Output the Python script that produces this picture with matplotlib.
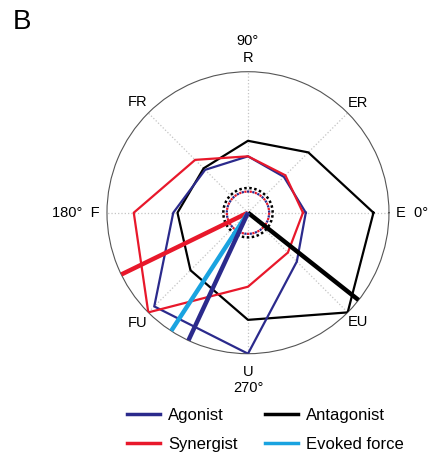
import numpy as np
import matplotlib
matplotlib.use("Agg")
import matplotlib.pyplot as plt
from matplotlib.lines import Line2D

plt.rcParams['font.family'] = ['Liberation Sans', 'DejaVu Sans']

# force directions, counter-clockwise from E
directions = ['E', 'ER', 'R', 'FR', 'F', 'FU', 'U', 'EU']
angles_deg = [0, 45, 90, 135, 180, 225, 270, 315]

# normalised tuning per direction
agonist = [0.41, 0.36, 0.40, 0.43, 0.53, 0.94, 1.00, 0.49]
synergist = [0.39, 0.375, 0.40, 0.53, 0.81, 1.00, 0.525, 0.40]
antagonist = [0.89, 0.605, 0.51, 0.445, 0.50, 0.577, 0.76, 1.00]

# preferred direction vectors (deg, length)
vec_agonist = (245, 1.0)
vec_synergist = (206, 1.0)
vec_antagonist = (321.7, 1.0)
vec_evoked = (237, 1.0)

# baseline radii (dotted circles)
base_agonist = 0.15
base_synergist = 0.15
base_antagonist = 0.175

c_ago = '#2b2a8c'
c_syn = '#e8182b'
c_ant = '#000000'
c_evo = '#1aa3e0'

fig = plt.figure(figsize=(4.30, 4.62), dpi=100)
ax = fig.add_axes([0.2488, 0.2344, 0.6558, 0.6104], projection='polar')

theta = np.deg2rad(angles_deg)
th_closed = np.append(theta, theta[0])

def closed(vals):
    return np.append(vals, vals[0])

ax.plot(th_closed, closed(antagonist), color=c_ant, lw=1.6, zorder=3)
ax.plot(th_closed, closed(agonist), color=c_ago, lw=1.6, zorder=3)
ax.plot(th_closed, closed(synergist), color=c_syn, lw=1.6, zorder=3)

# dotted baseline circles
circ = np.linspace(0, 2 * np.pi, 200)
ax.plot(circ, np.full_like(circ, base_antagonist), color=c_ant, lw=1.8,
        linestyle=(0, (1, 1)), zorder=4)
ax.plot(circ, np.full_like(circ, base_agonist), color=c_ago, lw=1.6,
        linestyle=(0, (1, 1.4)), zorder=4)
ax.plot(circ, np.full_like(circ, base_synergist), color=c_syn, lw=1.6,
        linestyle=(1.2, (1, 1.4)), zorder=4)

# preferred-direction vectors
for (ang, length), col in [(vec_synergist, c_syn), (vec_antagonist, c_ant),
                           (vec_evoked, c_evo), (vec_agonist, c_ago)]:
    ax.plot([0, np.deg2rad(ang)], [0, length], color=col, lw=3.2,
            solid_capstyle='butt', zorder=5)

ax.set_ylim(0, 1)
ax.set_yticks([])
ax.set_xticks(theta)
ax.set_xticklabels([])
ax.grid(axis='x', linestyle=':', color='#c4c4c4', lw=0.9)
ax.grid(axis='y', visible=False)
ax.spines['polar'].set_color('#555555')
ax.spines['polar'].set_linewidth(0.8)

fs = 10.5
lab_kw = dict(fontsize=fs, color='black', ha='center', va='center')
ax.text(np.deg2rad(45), 1.10, 'ER', **lab_kw)
ax.text(np.deg2rad(135), 1.11, 'FR', **lab_kw)
ax.text(np.deg2rad(225), 1.11, 'FU', **lab_kw)
ax.text(np.deg2rad(315), 1.10, 'EU', **lab_kw)
ax.text(np.deg2rad(90), 1.10, 'R', **lab_kw)
ax.text(np.deg2rad(90), 1.22, '90°', **lab_kw)
ax.text(np.deg2rad(270), 1.13, 'U', **lab_kw)
ax.text(np.deg2rad(270), 1.24, '270°', **lab_kw)
ax.text(np.deg2rad(180), 1.05, '180°  F', fontsize=fs, color='black',
        ha='right', va='center')
ax.text(0, 1.05, 'E  0°', fontsize=fs, color='black', ha='left', va='center')

fig.text(0.030, 0.937, 'B', fontsize=20, ha='left', va='baseline')

handles = [
    Line2D([], [], color=c_ago, lw=2.5),
    Line2D([], [], color=c_syn, lw=2.5),
    Line2D([], [], color=c_ant, lw=2.5),
    Line2D([], [], color=c_evo, lw=2.5),
]
labels = ['Agonist', 'Synergist', 'Antagonist', 'Evoked force']
fig.legend(handles, labels, ncol=2, loc='center', bbox_to_anchor=(0.617, 0.069),
           frameon=False, fontsize=12, handlelength=2.0, handletextpad=0.5,
           columnspacing=1.6, labelspacing=0.85)

fig.savefig('out.png', dpi=100)
